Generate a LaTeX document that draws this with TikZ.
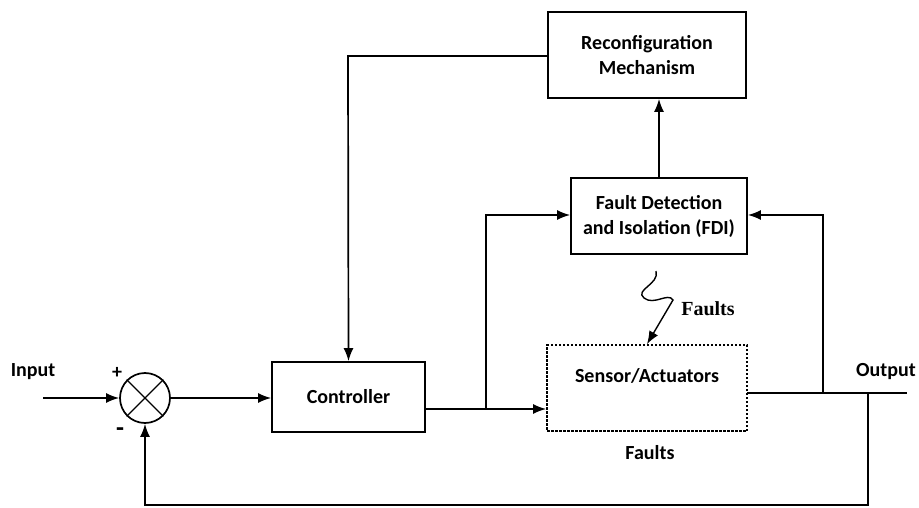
\documentclass[tikz,border=0pt]{standalone}
\usepackage{fontspec}
\setmainfont{Carlito}
\newfontfamily\timesf{Liberation Serif}
\usetikzlibrary{arrows.meta}
\begin{document}
\begin{tikzpicture}[x=1pt,y=-1pt,
  every path/.style={line width=1.7pt},
  blk/.style={draw, line width=1.7pt, align=center, font=\fontsize{20}{24}\selectfont\bfseries, inner sep=0pt},
  lbl/.style={font=\fontsize{20}{24}\selectfont\bfseries, inner sep=0pt},
  arr/.style={-{Latex[length=13pt,width=10pt]}}]
\useasboundingbox (0,0) rectangle (919,508);
\node[blk, minimum width=198pt, minimum height=86pt] (rec) at (647,55) {Reconfiguration\\[1pt]Mechanism};
\node[blk, minimum width=176pt, minimum height=76pt] (fdi) at (659,216) {Fault Detection\\[1pt]and Isolation (FDI)};
\node[blk, dashed, dash pattern=on 2.5pt off 1.5pt, minimum width=200pt, minimum height=86pt] (sen) at (647,388) {};
\node[lbl] (sentxt) at (647,376) {Sensor/Actuators};
\node[blk, minimum width=153pt, minimum height=70pt] (ctl) at (348.5,397) {Controller};
\node[draw, circle, line width=1.7pt, minimum size=50pt, inner sep=0pt] (sum) at (145,398) {};
\draw[line width=1.4pt] (sum.north west) -- (sum.south east) (sum.north east) -- (sum.south west);
\node[lbl] (in) at (33,372) {Input};
\node[lbl] (out) at (886,372) {Output};
\node[lbl] (plus) at (117,373) {+};
\node[lbl, font=\fontsize{26}{26}\selectfont\bfseries] (minus) at (120,432) {-};
\node[lbl] (flt) at (650,453) {Faults};
\node[font=\fontsize{20}{22}\selectfont\bfseries\timesf, inner sep=0pt] (flt2) at (708,309) {Faults};
% input
\coordinate (inS) at (43,398);
\draw[arr] (inS) -- (sum.west);
\draw[arr] (sum.east) -- (ctl.west |- sum.east);
% controller out
\coordinate (cOut) at (425,409);
\coordinate (j1) at (486,409);
\draw[arr] (cOut) -- (sen.west |- cOut);
\coordinate (j1t) at (486,215);
\draw[arr] (j1) -- (j1t) -- (fdi.west |- j1t);
% sensor out
\coordinate (sOut) at (747,393);
\coordinate (oEnd) at (907,393);
\draw (sOut) -- (oEnd);
\coordinate (j2) at (823,393);
\coordinate (j2t) at (823,215);
\draw[arr] (j2) -- (j2t) -- (fdi.east |- j2t);
\coordinate (j3) at (868,393);
\coordinate (j3b) at (868,505);
\coordinate (sb) at (145,505);
\draw[arr] (j3) -- (j3b) -- (sb) -- (sum.south);
% FDI to reconfig
\draw[arr] (fdi.north) -- (fdi.north |- rec.south);
% reconfig to controller
\coordinate (rl) at (348,56);
\draw[arr] (rec.west |- rl) -- (rl) -- (ctl.north);
% faults squiggle
\draw[arr, line width=1.4pt] (656,271) .. controls (660,284) and (634,290) .. (644,298) .. controls (654,306) and (668,292) .. (673,300) -- (sen.north);
\end{tikzpicture}
\end{document}
